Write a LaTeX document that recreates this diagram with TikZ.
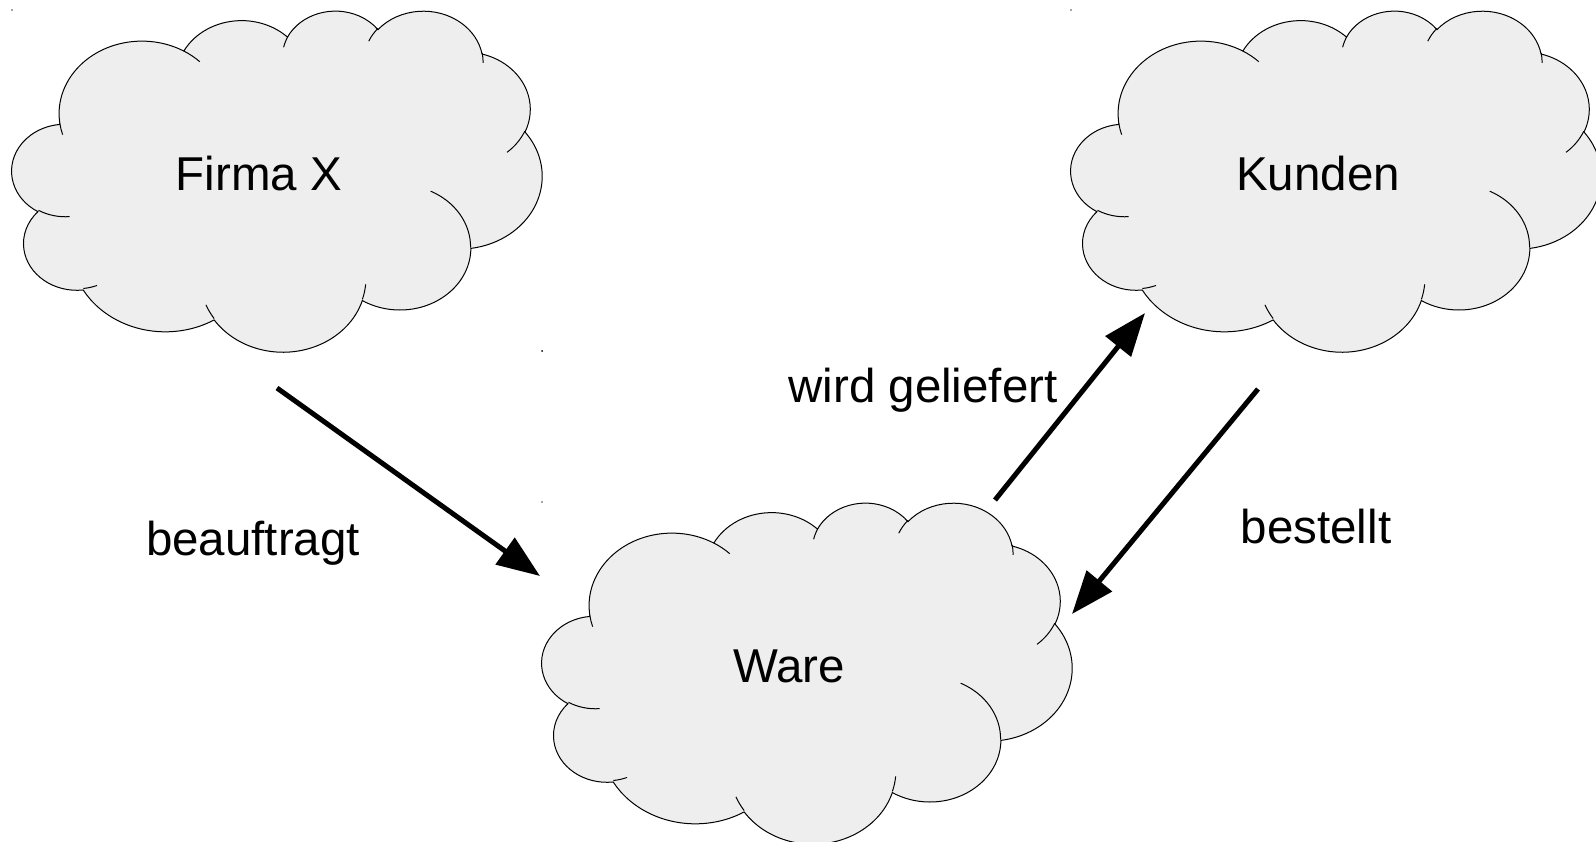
\documentclass[tikz,border=0pt]{standalone}
\usepackage{fontspec}
\setmainfont{Liberation Sans}
\usetikzlibrary{arrows.meta}
\definecolor{cloudgray}{HTML}{EEEEEE}
\newcommand{\cloudw}{530}
\newcommand{\cloudh}{341}
\newcommand{\cloudarc}[4]{%
	arc[x radius=#1, y radius=#2,
		start angle={atan2(#1*sin(#3),#2*cos(#3))},
		delta angle={mod(atan2(#1*sin(#3+#4),#2*cos(#3+#4))-atan2(#1*sin(#3),#2*cos(#3))+720,360)}]%
}
\newcommand{\drawcloud}[1]{%
	\begin{scope}[shift={(#1)}, xscale=\cloudw/4320, yscale=\cloudh/4320]
	\filldraw[fill=cloudgray, draw=black, line width=0.5pt] (390.0,1437.0)
		\cloudarc{675.3}{919.0}{-190.4875}{123.7805}
		\cloudarc{533.3}{726.7}{-144.1024}{89.9452}
		\cloudarc{436.5}{594.5}{-145.8079}{99.7230}
		\cloudarc{485.7}{659.5}{-130.9861}{117.2417}
		\cloudarc{533.3}{727.3}{-78.7089}{109.0269}
		\cloudarc{677.5}{922.0}{-46.2673}{130.2690}
		\cloudarc{578.5}{786.7}{0.6250}{114.0333}
		\cloudarc{675.2}{921.5}{22.4516}{115.1726}
		\cloudarc{772.0}{1054.3}{66.2426}{75.7110}
		\cloudarc{436.0}{591.8}{-274.9421}{146.7356}
		\cloudarc{434.5}{594.5}{-246.8285}{152.5189} -- cycle;
	\draw[line width=0.5pt]
		(469.3,2617.7) \cloudarc{434.5}{594.5}{86.7420}{26.4295}
		(692.8,3489.9) \cloudarc{436.0}{591.8}{73.6105}{11.4475}
		(1647.8,3909.0) \cloudarc{675.2}{921.5}{137.6242}{14.0811}
		(2882.7,3475.1) \cloudarc{675.2}{921.5}{6.4533}{15.9984}
		(3412.9,2295.4) \cloudarc{578.5}{786.7}{-70.2924}{70.9174}
		(4179.8,1535.4) \cloudarc{533.3}{727.3}{30.3180}{27.7515}
		(3832.4,542.6) \cloudarc{485.7}{659.5}{-13.7443}{14.8589}
		(2907.8,395.2) \cloudarc{485.7}{659.5}{-149.1815}{18.1954}
		(2214.1,472.0) \cloudarc{436.5}{594.5}{-163.4943}{17.6864}
		(1400.0,519.2) \cloudarc{675.3}{919.0}{-66.7070}{12.3194}
		(412.7,1578.9) \cloudarc{675.3}{919.0}{157.6544}{11.8582};
	\fill (0,0) circle (8);
	\end{scope}
}

\begin{document}
\begin{tikzpicture}[x=0.5pt,y=-0.5pt,
	txt/.style={font=\fontsize{23.75}{28}\selectfont, inner sep=0pt},
	flow/.style={line width=2.5pt, -{Triangle[length=21.5pt,width=16pt]}}]
	\useasboundingbox (0,0) rectangle (1596,841);
	\clip (0,0) rectangle (1596,841);

	\drawcloud{12,10}
	\drawcloud{1071,10}
	\drawcloud{542,502}
	\fill (542,351) circle (1);

	\node[txt] (firma) at (259,174) {Firma X};
	\node[txt] (kunden) at (1318,174) {Kunden};
	\node[txt] (ware) at (789,666) {Ware};

	\coordinate (auftrag1) at (277,388);
	\coordinate (auftrag2) at (540,576);
	\coordinate (liefer1) at (995,500);
	\coordinate (liefer2) at (1145,313);
	\coordinate (bestell1) at (1258,389);
	\coordinate (bestell2) at (1072,614);

	\draw[flow] (auftrag1) -- (auftrag2);
	\draw[flow] (liefer1) -- (liefer2);
	\draw[flow] (bestell1) -- (bestell2);

	\node[txt, anchor=base] (beauftragt) at (253,555) {beauftragt};
	\node[txt, anchor=base] (geliefert) at (923,402) {wird geliefert};
	\node[txt, anchor=base] (bestellt) at (1316,543) {bestellt};
\end{tikzpicture}
\end{document}
